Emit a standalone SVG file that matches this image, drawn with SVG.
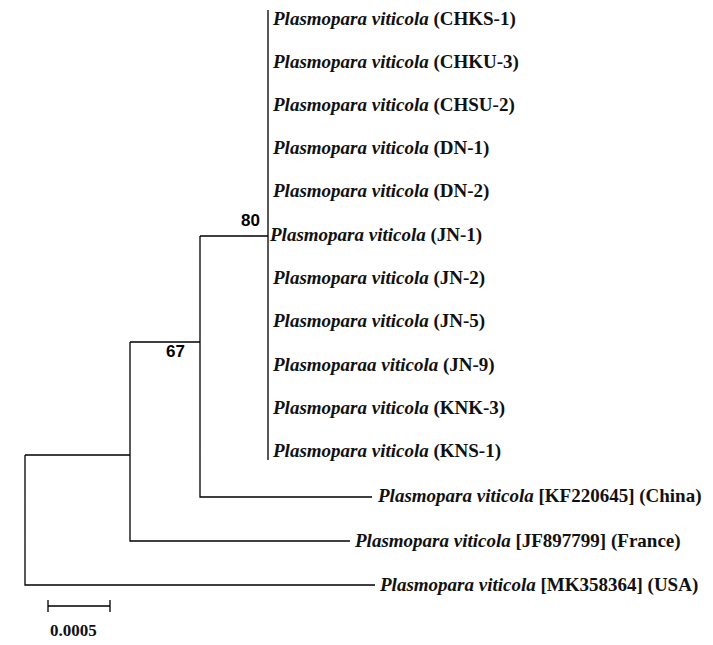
<svg xmlns="http://www.w3.org/2000/svg" width="713" height="645" viewBox="0 0 713 645">
<style>
.l{stroke:#000;stroke-width:1.3;fill:none}
.t{font-family:"Liberation Serif",serif;font-size:19px;font-weight:bold;fill:#111}
.s{font-style:italic}
.b{font-family:"Liberation Sans",sans-serif;font-size:17px;font-weight:bold}
</style>
<rect width="713" height="645" fill="#fff"/>
<g id="connectors">
<path class="l" d="M268 10V460M200 236H268M200 236V497H372M130 342H200M130 342V541H350M25 455H130M25 455V585H375M48 606H110M48 600V612M110 600V612"/>
</g>
<g id="support"><text class="b" x="241" y="226">80</text><text class="b" x="166" y="357">67</text></g>
<g id="leaves" class="t">
<text x="273" y="25"><tspan class="s">Plasmopara viticola</tspan> (CHKS-1)</text>
<text x="273" y="68"><tspan class="s">Plasmopara viticola</tspan> (CHKU-3)</text>
<text x="273" y="111"><tspan class="s">Plasmopara viticola</tspan> (CHSU-2)</text>
<text x="273" y="154"><tspan class="s">Plasmopara viticola</tspan> (DN-1)</text>
<text x="273" y="197"><tspan class="s">Plasmopara viticola</tspan> (DN-2)</text>
<text x="270" y="241"><tspan class="s">Plasmopara viticola</tspan> (JN-1)</text>
<text x="273" y="284"><tspan class="s">Plasmopara viticola</tspan> (JN-2)</text>
<text x="273" y="327"><tspan class="s">Plasmopara viticola</tspan> (JN-5)</text>
<text x="273" y="371"><tspan class="s">Plasmoparaa viticola</tspan> (JN-9)</text>
<text x="273" y="414"><tspan class="s">Plasmopara viticola</tspan> (KNK-3)</text>
<text x="273" y="457"><tspan class="s">Plasmopara viticola</tspan> (KNS-1)</text>
<text x="378" y="502"><tspan class="s">Plasmopara viticola</tspan> [KF220645] (China)</text>
<text x="355" y="547"><tspan class="s">Plasmopara viticola</tspan> [JF897799] (France)</text>
<text x="380" y="591"><tspan class="s">Plasmopara viticola</tspan> [MK358364] (USA)</text>
</g>
<g id="scale"><text class="t" x="50" y="636" style="font-size:17px">0.0005</text></g>
</svg>
